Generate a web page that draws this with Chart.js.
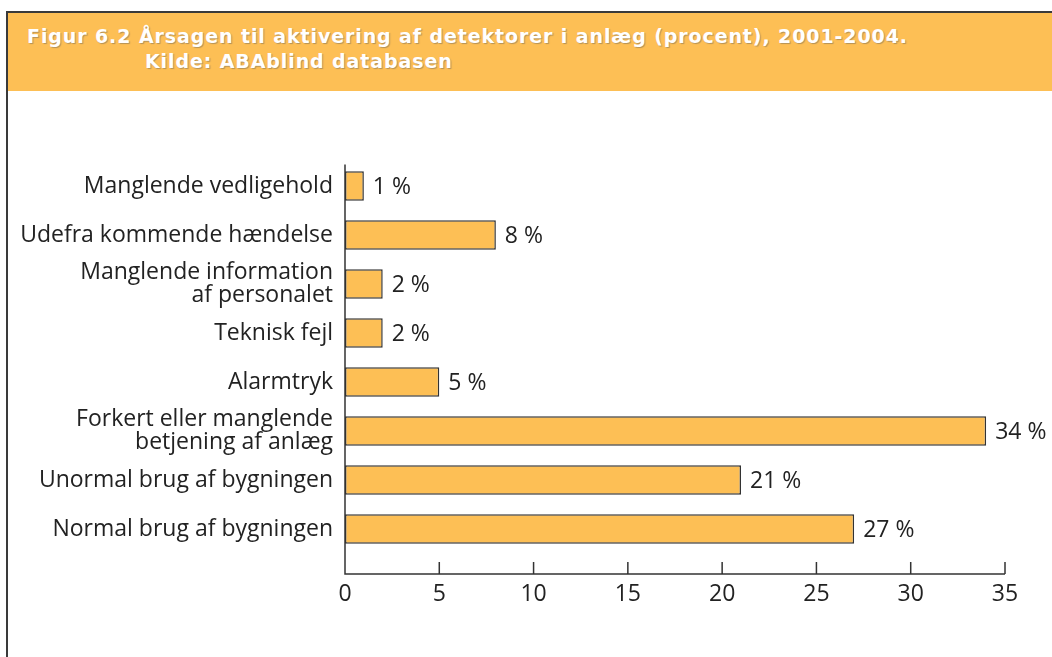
<!DOCTYPE html>
<html>
<head>
<meta charset="utf-8">
<script src="https://cdn.jsdelivr.net/npm/chart.js@4"></script>
<style>
  html, body { margin: 0; padding: 0; background: #fff; }
  #page { position: relative; width: 1052px; height: 657px; overflow: hidden; }
  #frame { position: absolute; left: 6px; top: 11px; right: -4px; bottom: -4px;
           border-top: 2px solid #3a3a3a; border-left: 2px solid #3a3a3a; }
  #head { position: absolute; left: 8px; top: 13px; right: 0; height: 78px; background: #fdbf55; }
  #head div { position: absolute; color: #fff; font-family: "DejaVu Sans"; font-weight: bold;
              font-size: 19px; letter-spacing: 0.9px; white-space: nowrap;
              text-shadow: 1px 1px 1px rgba(90,90,90,0.45); }
  #wrap { position: absolute; left: 0; top: 0; width: 1052px; height: 657px; }
</style>
</head>
<body>
<div id="page">
  <div id="frame"></div>
  <div id="head">
    <div style="left:19px; top:12px;">Figur 6.2 Årsagen til aktivering af detektorer i anlæg (procent), 2001-2004.</div>
    <div style="left:137px; top:37px;">Kilde: ABAblind databasen</div>
  </div>
  <div id="wrap"><canvas id="myChart"></canvas></div>
</div>
<script>
const causes = [
  "Manglende vedligehold",
  "Udefra kommende hændelse",
  ["Manglende information", "af personalet"],
  "Teknisk fejl",
  "Alarmtryk",
  ["Forkert eller manglende", "betjening af anlæg"],
  "Unormal brug af bygningen",
  "Normal brug af bygningen"
];
const percent = [1, 8, 2, 2, 5, 34, 21, 27];
const xTicks = [0, 5, 10, 15, 20, 25, 30, 35];

Chart.defaults.font.family = "'Open Sans', 'Noto Sans', sans-serif";
Chart.defaults.font.size = 23;
Chart.defaults.color = "#222";

// axis line + inward tick marks, drawn a bit below the last bar like the original
const axisLines = {
  id: "axisLines",
  afterDraw(chart) {
    const ctx = chart.ctx;
    const x = chart.scales.x;
    const area = chart.chartArea;
    const y0 = area.bottom + 20.5;
    const x0 = x.getPixelForValue(0);
    ctx.save();
    ctx.strokeStyle = "#333";
    ctx.lineWidth = 1.5;
    ctx.beginPath();
    ctx.moveTo(x0, area.top + 3);
    ctx.lineTo(x0, y0);
    ctx.lineTo(x.getPixelForValue(35), y0);
    for (let t of xTicks) {
      const px = x.getPixelForValue(t);
      ctx.moveTo(px, y0);
      ctx.lineTo(px, y0 - 12);
    }
    ctx.stroke();
    ctx.restore();
  }
};

// "N %" labels at the end of each bar
const valueLabels = {
  id: "valueLabels",
  afterDatasetsDraw(chart) {
    const ctx = chart.ctx;
    const meta = chart.getDatasetMeta(0);
    ctx.save();
    ctx.font = "23px 'Open Sans', 'Noto Sans', sans-serif";
    ctx.fillStyle = "#222";
    ctx.textBaseline = "middle";
    meta.data.forEach((bar, i) => {
      ctx.fillText(percent[i] + " %", bar.x + 9, bar.y + 1);
    });
    ctx.restore();
  }
};

const ctx = document.getElementById("myChart");
const myChart = new Chart(ctx, {
  type: "bar",
  data: {
    labels: causes,
    datasets: [
      {
        label: "procent",
        data: percent,
        backgroundColor: "#fdbf55",
        borderColor: "#333",
        borderWidth: 1.5,
        borderSkipped: false,
        categoryPercentage: 1,
        barPercentage: 0.6,
      },
    ],
  },
  options: {
    indexAxis: "y",
    responsive: true,
    maintainAspectRatio: false,
    animation: false,
    layout: {
      padding: { top: 161.5, right: 47, left: 0, bottom: 0 },
    },
    plugins: {
      legend: { display: false },
      tooltip: { enabled: false },
    },
    scales: {
      x: {
        min: 0,
        max: 35,
        afterBuildTicks: (scale) => {
          scale.ticks = xTicks.map((v) => ({ value: v }));
        },
        afterFit: (scale) => {
          scale.height = 103.5;
        },
        grid: { display: false },
        border: { display: false },
        ticks: { padding: 19, font: { size: 23 }, maxRotation: 0 },
      },
      y: {
        afterFit: (scale) => {
          scale.width = 345;
        },
        grid: { display: false },
        border: { display: false },
        ticks: { padding: 4, font: { size: 23, lineHeight: 1.0 } },
      },
    },
  },
  plugins: [axisLines, valueLabels],
});
</script>
</body>
</html>
